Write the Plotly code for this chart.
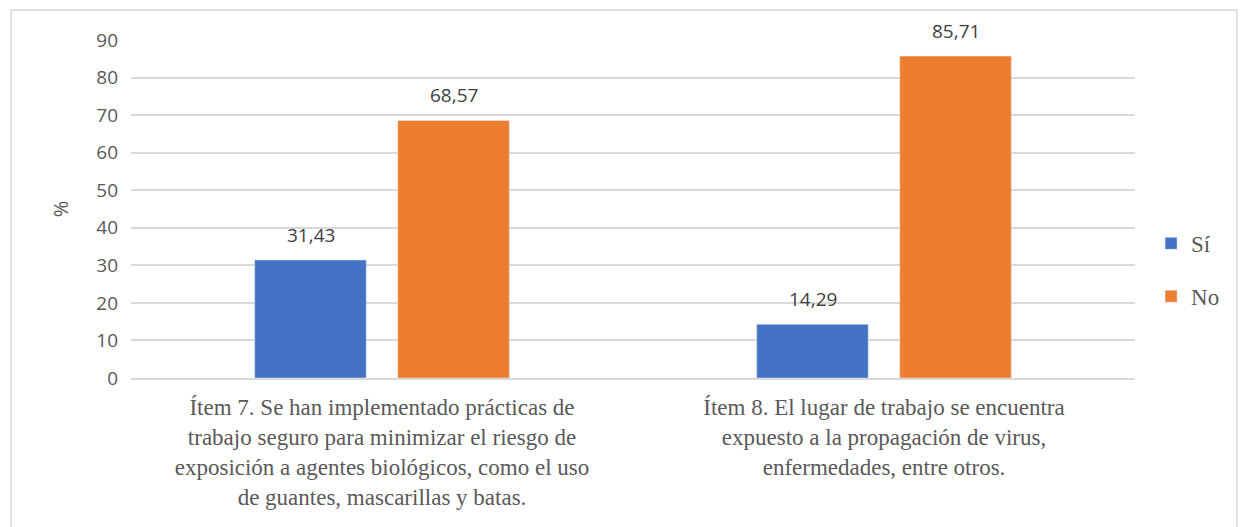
import plotly.graph_objects as go

items = [
    "Ítem 7. Se han implementado prácticas de<br>trabajo seguro para minimizar el riesgo de<br>exposición a agentes biológicos, como el uso<br>de guantes, mascarillas y batas.",
    "Ítem 8. El lugar de trabajo se encuentra<br>expuesto a la propagación de virus,<br>enfermedades, entre otros.",
]
si = [31.43, 14.29]
no = [68.57, 85.71]

fig = go.Figure()
fig.add_trace(go.Bar(x=items, y=si, name="Sí", marker_color="#4472C4", legendgroup="a"))
fig.add_trace(go.Bar(x=items, y=no, name="No", marker_color="#ED7D31", legendgroup="b"))

# value labels over each bar
for vals, shift in [(si, -71.5), (no, 71.5)]:
    for cat, v in zip(items, vals):
        fig.add_annotation(x=cat, y=v, text=f"{v:.2f}".replace(".", ","), showarrow=False,
                           xshift=shift, yshift=10, yanchor="bottom",
                           font=dict(family="Open Sans", size=19, color="#404040"))

fig.update_layout(
    width=1240, height=527, autosize=False,
    margin=dict(l=131, r=105, t=40, b=149),
    barmode="group", bargap=0.43, bargroupgap=0.22,
    plot_bgcolor="white", paper_bgcolor="white",
    legend=dict(x=1.016, y=0.32, yanchor="middle", tracegroupgap=20, itemwidth=30,
                font=dict(family="Liberation Serif", size=23, color="#595959")),
    shapes=[dict(type="rect", xref="paper", yref="paper", x0=-0.1195, x1=1.1016, y0=-0.46, y1=1.0888,
                 line=dict(color="#d9d9d9", width=1.5))],
)
fig.update_yaxes(range=[0, 90], dtick=10, showgrid=True, gridcolor="#d9d9d9", gridwidth=1.5,
                 zeroline=False, tickfont=dict(family="Open Sans", size=19, color="#595959"),
                 title=dict(text="%", font=dict(family="Open Sans", size=20, color="#595959"), standoff=22),
                 ticklabelstandoff=12)
fig.update_xaxes(showline=True, linecolor="#d9d9d9", linewidth=1.5, ticklabelstandoff=8,
                 tickfont=dict(family="Liberation Serif", size=23, color="#595959"))

fig.write_html("out.html", config={"displayModeBar": False, "responsive": False},
               post_script="document.body.style.margin='0';document.body.style.overflow='hidden';")
